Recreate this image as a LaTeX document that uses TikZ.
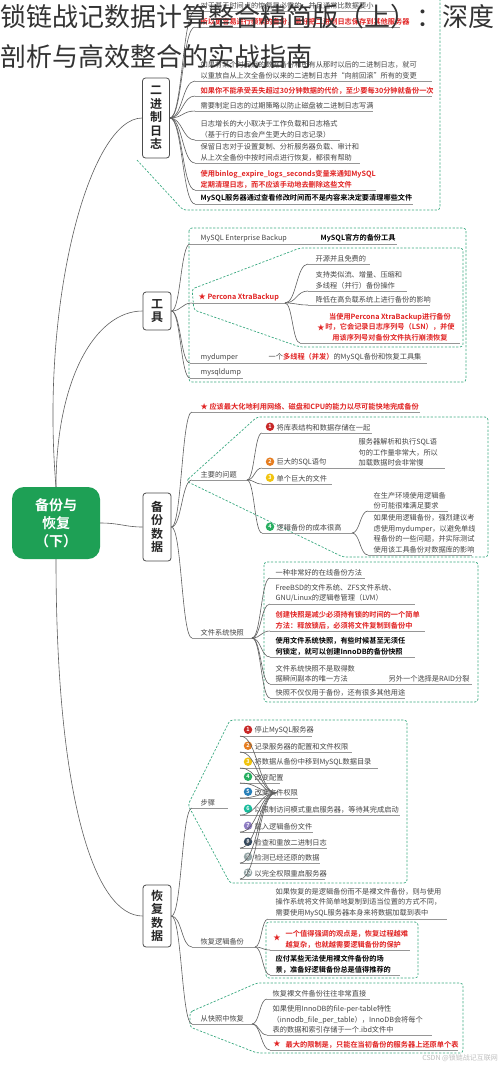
\documentclass[tikz,border=0pt]{standalone}
\usepackage{fontspec}
\setmainfont{Noto Sans CJK SC}[BoldFont={Noto Sans CJK SC Bold}]
\usetikzlibrary{calc}
\definecolor{tgray}{RGB}{70,70,70}
\definecolor{tred}{RGB}{225,35,35}
\definecolor{ugray}{RGB}{150,150,150}
\definecolor{cgray}{RGB}{95,95,95}
\definecolor{bteal}{RGB}{60,170,130}
\definecolor{cgreen}{RGB}{30,160,85}
\definecolor{nA}{RGB}{200,40,40}
\definecolor{nB}{RGB}{230,126,34}
\definecolor{nC}{RGB}{241,196,15}
\definecolor{nD}{RGB}{39,174,96}
\definecolor{nE}{RGB}{41,128,185}
\definecolor{nF}{RGB}{26,188,156}
\definecolor{nG}{RGB}{142,124,195}
\definecolor{nH}{RGB}{52,73,94}
\definecolor{nI}{RGB}{149,165,166}
\newcommand\leaf[7][txt]{%
  \node[#1,anchor=south west] (#2) at (#3,#4-1.2) {#7};
  \coordinate (#2u) at (#5,#4);
  \coordinate (#2e) at (#6,#4);
  \draw[uline] (#2u) -- (#2e);}
\newcommand\nleaf[7]{%
  \node[numc,fill=#2] (#1n) at (#4+4,#5-6.3) {#3};
  \node[txt,anchor=south west] (#1) at (#4+10,#5-1.2) {#7};
  \coordinate (#1u) at (#4-4,#5);
  \coordinate (#1e) at (#6,#5);
  \draw[uline] (#1u) -- (#1e);}
\newcommand\lk[2]{\draw[conn] let \p1=(#1), \p2=(#2), \n1={0.5*(\x2-\x1)} in (\p1) .. controls (\x1+\n1,\y1) and (\x2-\n1,\y2) .. (\p2);}
\begin{document}
\begin{tikzpicture}[x=1pt,y=-1pt,
  txt/.style={font=\fontsize{7.2}{10.5}\selectfont, text=tgray, inner sep=0.5pt, align=left},
  rtxt/.style={txt, text=tred, font=\fontsize{7.2}{10.5}\selectfont\bfseries},
  btxt/.style={txt, text=black, font=\fontsize{7.2}{10.5}\selectfont\bfseries},
  uline/.style={draw=ugray, line width=0.6pt},
  conn/.style={draw=cgray, line width=0.6pt},
  bnd/.style={draw=bteal, dash pattern=on 2.2pt off 1.6pt, line width=0.7pt, rounded corners=3pt},
  sec/.style={draw=black!70, line width=0.8pt, rounded corners=3pt, fill=white, font=\fontsize{12}{13.5}\selectfont\bfseries, text=black!85, align=center, inner sep=0, minimum width=28pt},
  numc/.style={circle, inner sep=0, minimum size=8.5pt, font=\fontsize{5.5}{5.5}\selectfont\bfseries, text=white},
  title/.style={font=\fontsize{26}{30}\selectfont, text=black!80, inner sep=0, anchor=west}]
\useasboundingbox (0,0) rectangle (500,1066);
\fill[white] (0,0) rectangle (500,1066);

% ---------- boundaries ----------
\draw[bnd] (137,160) -- (183,210) -- (440,210) -- (440,-5);
\draw[bnd] (189,228) rectangle (466,382);
\draw[bnd] (192,289) -- (300,248) -- (463,248) -- (463,347) -- (300,347) -- (194,310) -- cycle;
\draw[bnd] (186,481) -- (257,417) -- (488,417) -- (488,557) -- (343,557) -- cycle;
\draw[bnd] (264,562) rectangle (478,702);
\draw[bnd] (188,805) -- (230,720) -- (407,720) -- (407,883) -- (230,883) -- cycle;
\draw[bnd] (266,922) rectangle (418,978);
\draw[bnd] (190,1012) -- (257,983) -- (463,983) -- (463,1053) -- (257,1053) -- (190,1027) -- cycle;

% ---------- central and sections ----------
\node[fill=cgreen, rounded corners=12pt, minimum width=88pt, minimum height=72pt, text=white, font=\fontsize{14}{18}\selectfont\bfseries, align=center, inner sep=0] (cen) at (56,523) {备份与\\恢复\\（下）};
\node[sec, minimum width=27pt, minimum height=80pt] (s1) at (156,118) {二\\进\\制\\日\\志};
\node[sec, minimum height=38pt] (s2) at (157,311) {工\\具};
\node[sec, minimum height=68pt] (s3) at (157,527) {备\\份\\数\\据};
\node[sec, minimum height=62pt] (s4) at (157,916) {恢\\复\\数\\据};

\draw[conn] (cen.north) .. controls (40,300) and (90,118) .. (s1.west);
\draw[conn] (cen.north) .. controls (56,380) and (95,311) .. (s2.west);
\draw[conn] (cen.east) .. controls (120,523) and (125,527) .. (s3.west);
\draw[conn] (cen.south) .. controls (56,800) and (95,916) .. (s4.west);

% ---------- section 1 ----------
\leaf{a1}{200}{11}{195}{395}{对于基于时间点的恢复是必需的，并且通常比数据要小}
\leaf[rtxt]{a2}{200}{27}{195}{400}{所以更容易进行频繁的备份，最好把二进制日志保存到其他服务器}
\leaf{a3}{200}{81}{195}{432}{如果有某个时间点的数据备份和所有从那时以后的二进制日志，就可\\以重放自从上次全备份以来的二进制日志并“向前回滚”所有的变更}
\leaf[rtxt]{a4}{200}{96}{195}{432}{如果你不能承受丢失超过30分钟数据的代价，至少要每30分钟就备份一次}
\leaf{a5}{200}{111}{195}{373}{需要制定日志的过期策略以防止磁盘被二进制日志写满}
\leaf{a6}{200}{140}{195}{340}{日志增长的大小取决于工作负载和日志格式\\（基于行的日志会产生更大的日志记录）}
\leaf{a7}{200}{163}{195}{360}{保留日志对于设置复制、分析服务器负载、审计和\\从上次全备份中按时间点进行恢复，都很有帮助}
\leaf[rtxt]{a8}{200}{190}{195}{376}{使用binlog\_expire\_logs\_seconds变量来通知MySQL\\定期清理日志，而不应该手动地去删除这些文件}
\leaf[btxt]{a9}{200}{204}{195}{413}{MySQL服务器通过查看修改时间而不是内容来决定要清理哪些文件}
\foreach \i in {a1,a2,a3,a4,a5,a6,a7,a8,a9} {\lk{s1.east}{\i u}}

% ---------- section 2 ----------
\leaf{b1}{200}{244}{190}{397}{MySQL Enterprise Backup}
\node[btxt,anchor=south west] (b1c) at (320,242.8) {MySQL官方的备份工具};
\leaf[rtxt]{b2}{198}{303}{192}{285}{★ Percona XtraBackup}
\leaf{b21}{315}{264}{308}{370}{开源并且免费的}
\leaf{b22}{315}{291}{308}{407}{支持类似流、增量、压缩和\\多线程（并行）备份操作}
\leaf{b23}{315}{305}{308}{430}{降低在高负载系统上进行备份的影响}
\node[rtxt,align=center,anchor=south] (b24) at (390,341.8) {当使用Percona XtraBackup进行备份\\时，它会记录日志序列号（LSN），并使\\用该序列号对备份文件执行崩溃恢复};
\node[rtxt] (b24s) at (321,328) {★};
\coordinate (b24u) at (300,343);
\coordinate (b24e) at (460,343);
\draw[uline] (b24u) -- (b24e);
\foreach \i in {b21,b22,b23,b24} {\lk{b2e}{\i u}}
\leaf{b3}{200}{363}{190}{427}{mydumper}
\node[txt,anchor=south west] (b3c) at (268,361.8) {一个\textcolor{tred}{\bfseries 多线程（并发）}的MySQL备份和恢复工具集};
\leaf{b4}{200}{378}{190}{243}{mysqldump}
\foreach \i in {b1,b2,b3,b4} {\lk{s2.east}{\i u}}

% ---------- section 3 ----------
\leaf[rtxt]{c0}{200}{412}{192}{420}{★ 应该最大化地利用网络、磁盘和CPU的能力以尽可能快地完成备份}
\leaf{c1}{200}{480}{192}{247}{主要的问题}
\nleaf{c11}{nA}{1}{266}{433}{372}{将库表结构和数据存储在一起}
\nleaf{c12}{nB}{2}{266}{468}{445}{巨大的SQL语句}
\node[txt,anchor=south west] (c12c) at (358,466.8) {服务器解析和执行SQL语\\句的工作量非常大，所以\\加载数据时会非常慢};
\nleaf{c13}{nC}{3}{266}{484}{332}{单个巨大的文件}
\nleaf{c14}{nD}{4}{266}{533}{352}{逻辑备份的成本很高}
\leaf{c141}{373}{511}{368}{448}{在生产环境使用逻辑备\\份可能很难满足要求}
\leaf{c142}{373}{555}{368}{472}{如果使用逻辑备份，强烈建议考\\虑使用mydumper，以避免单线\\程备份的一些问题，并实际测试\\使用该工具备份对数据库的影响}
\foreach \i in {c11,c12,c13,c14} {\lk{c1e}{\i u}}
\lk{c14e}{c141u}
\lk{c14e}{c142u}
\leaf{c2}{200}{638}{192}{252}{文件系统快照}
\leaf{c21}{275}{578}{270}{365}{一种非常好的在线备份方法}
\leaf{c22}{275}{604}{270}{415}{FreeBSD的文件系统、ZFS文件系统、\\GNU/Linux的逻辑卷管理（LVM）}
\leaf[rtxt]{c23}{275}{631}{270}{425}{创建快照是减少必须持有锁的时间的一个简单\\方法：释放锁后，必须将文件复制到备份中}
\leaf[btxt]{c24}{275}{657}{270}{415}{使用文件系统快照，有些时候甚至无须任\\何锁定，就可以创建InnoDB的备份快照}
\leaf{c25}{275}{684}{270}{472}{文件系统快照不是取得数\\据瞬间副本的唯一方法}
\node[txt,anchor=south west] (c25c) at (388,682.8) {另外一个选择是RAID分裂};
\leaf{c26}{275}{698}{270}{405}{快照不仅仅用于备份，还有很多其他用途}
\foreach \i in {c21,c22,c23,c24,c25,c26} {\lk{c2e}{\i u}}
\foreach \i in {c0,c1,c2} {\lk{s3.east}{\i u}}

% ---------- section 4 ----------
\leaf{d1}{200}{808}{192}{228}{步骤}
\nleaf{d1a}{nA}{1}{244}{736}{312}{停止MySQL服务器}
\nleaf{d1b}{nB}{2}{244}{752}{352}{记录服务器的配置和文件权限}
\nleaf{d1c}{nC}{3}{244}{768}{378}{将数据从备份中移到MySQL数据目录}
\nleaf{d1d}{nD}{4}{244}{783}{280}{改变配置}
\nleaf{d1e}{nE}{5}{244}{798}{298}{改变文件权限}
\nleaf{d1f}{nF}{6}{244}{815}{400}{以限制访问模式重启服务器，等待其完成启动}
\nleaf{d1g}{nG}{7}{244}{832}{313}{载入逻辑备份文件}
\nleaf{d1h}{nH}{8}{244}{848}{327}{检查和重放二进制日志}
\nleaf{d1i}{nI}{9}{244}{863}{320}{检测已经还原的数据}
\nleaf{d1j}{nI}{10}{244}{879}{325}{以完全权限重启服务器}
\foreach \i in {d1a,d1b,d1c,d1d,d1e,d1f,d1g,d1h,d1i,d1j} {\lk{d1e}{\i u}}
\leaf{d2}{200}{947}{192}{255}{恢复逻辑备份}
\leaf{d21}{275}{919}{268}{447}{如果恢复的是逻辑备份而不是裸文件备份，则与使用\\操作系统将文件简单地复制到适当位置的方式不同，\\需要使用MySQL服务器本身来将数据加载到表中}
\leaf[rtxt]{d22}{285}{950}{270}{410}{一个值得强调的观点是，恢复过程越难\\越复杂，也就越需要逻辑备份的保护}
\node[rtxt] (d22s) at (277,938) {★};
\leaf[btxt]{d23}{275}{975}{270}{400}{应付某些无法使用裸文件备份的场\\景，准备好逻辑备份总是值得推荐的}
\foreach \i in {d21,d22,d23} {\lk{d2e}{\i u}}
\leaf{d3}{200}{1024}{192}{252}{从快照中恢复}
\leaf{d31}{272}{999}{267}{370}{恢复裸文件备份往往非常直接}
\leaf{d32}{272}{1035}{267}{432}{如果使用InnoDB的file-per-table特性\\（innodb\_file\_per\_table），InnoDB会将每个\\表的数据和索引存储于一个.ibd文件中}
\leaf[rtxt]{d33}{285}{1050}{270}{458}{最大的限制是，只能在当初备份的服务器上还原单个表}
\node[rtxt] (d33s) at (277,1044) {★};
\foreach \i in {d31,d32,d33} {\lk{d3e}{\i u}}
\foreach \i in {d1,d2,d3} {\lk{s4.east}{\i u}}

\node[font=\fontsize{7}{8}\selectfont, text=black!25, anchor=east, inner sep=0] (wm) at (498,1058) {CSDN @锁链战记互联网};

% ---------- title ----------
\node[title] (t1) at (0,17) {锁链战记数据计算整合精简版（上）：深度};
\node[title] (t2) at (0,57) {剖析与高效整合的实战指南};
\end{tikzpicture}
\end{document}
